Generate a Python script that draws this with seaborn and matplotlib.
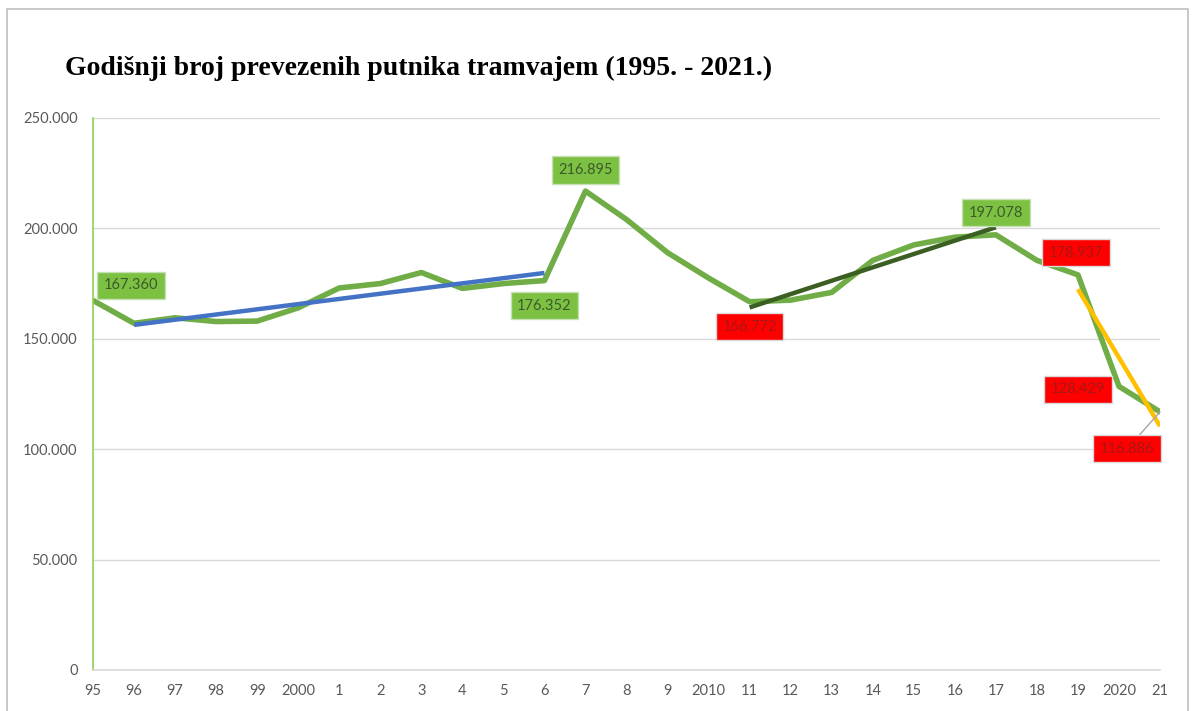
import matplotlib
matplotlib.use("Agg")
import matplotlib.pyplot as plt
from matplotlib.patches import Rectangle
from matplotlib.ticker import FuncFormatter
import seaborn as sns
import numpy as np
import pandas as pd

# ========================
# DATA
# ========================
years = list(range(1995, 2022))
tick_labels = ["95", "96", "97", "98", "99", "2000", "1", "2", "3", "4", "5", "6", "7",
               "8", "9", "2010", "11", "12", "13", "14", "15", "16", "17", "18", "19",
               "2020", "21"]
passengers = [167360, 157000, 159500, 157800, 158000, 164000, 173000, 175000, 180000,
              172800, 175000, 176352, 216895, 204000, 189000, 177500, 166772, 167500,
              171000, 185500, 192500, 196000, 197078, 185500, 178937, 128429, 116886]

# trend segments (start year, end year) -> Excel linear trendlines
trend_blue = (1996, 2006)
trend_dark = (2011, 2017)
trend_yellow = (2019, 2021)

# highlighted values: year, label style
green_labels = [1995, 2006, 2007, 2017]
red_labels = [2011, 2019, 2020, 2021]

df = pd.DataFrame({"idx": np.arange(len(years)), "year": years, "putnici": passengers})

# ========================
# STYLE
# ========================
sns.set_theme(style="white")
plt.rcParams["font.family"] = ["Lato", "DejaVu Sans"]

GREEN = "#70ad47"
BLUE = "#4472c4"
DARK = "#3b5f22"
YELLOW = "#ffc000"
GRID = "#d9d9d9"
TICK = "#595959"

fig = plt.figure(figsize=(12, 7.11), dpi=100)
ax = fig.add_axes([0.0775, 0.0577, 0.8892, 0.7764])

# outer chart border
fig.patches.append(Rectangle((0.006, -0.05), 0.984, 1.038, transform=fig.transFigure,
                             fill=False, edgecolor="#bfbfbf", linewidth=1.2))

sns.lineplot(data=df, x="idx", y="putnici", color=GREEN, linewidth=4.0, ax=ax)


def trend(seg, color):
    sub = df[(df["year"] >= seg[0]) & (df["year"] <= seg[1])]
    k, b = np.polyfit(sub["idx"], sub["putnici"], 1)
    sns.lineplot(x=sub["idx"], y=k * sub["idx"] + b, color=color, linewidth=3.2,
                 ax=ax, solid_capstyle="butt")


trend(trend_blue, BLUE)
trend(trend_dark, DARK)
trend(trend_yellow, YELLOW)

ax.set_xlim(0, len(years) - 1)
ax.set_ylim(0, 250000)
ax.set_yticks(np.arange(0, 250001, 50000))
ax.yaxis.set_major_formatter(FuncFormatter(lambda v, p: f"{int(v):,}".replace(",", ".")))
ax.set_xticks(df["idx"])
ax.set_xticklabels(tick_labels)
ax.tick_params(axis="both", colors=TICK, labelsize=10.5, length=0)
ax.tick_params(axis="y", pad=11)
ax.tick_params(axis="x", pad=10)
ax.set_xlabel("")
ax.set_ylabel("")
ax.yaxis.grid(True, color=GRID, linewidth=1)
ax.set_axisbelow(True)
for s in ["top", "right"]:
    ax.spines[s].set_visible(False)
ax.spines["left"].set_color("#92d050")
ax.spines["left"].set_linewidth(1.2)
ax.spines["bottom"].set_color(GRID)
ax.spines["bottom"].set_linewidth(1.2)

# data labels
offsets = {1995: (38, 15), 2006: (0, -25), 2007: (0, 21), 2017: (0, 22),
           2011: (0, -25), 2019: (-2, 22), 2020: (-41, -3), 2021: (-33, -37)}


def label(year, fc, tc, ec):
    i = years.index(year)
    v = passengers[i]
    txt = f"{v:,}".replace(",", ".")
    arrow = None
    if year == 2021:
        arrow = dict(arrowstyle="-", color="#a6a6a6", lw=1, shrinkA=0, shrinkB=0)
    ax.annotate(txt, (i, v), xytext=offsets[year], textcoords="offset pixels",
                ha="center", va="center", fontsize=10.5, color=tc,
                bbox=dict(boxstyle="square,pad=0.45", fc=fc, ec=ec, lw=1),
                arrowprops=arrow, annotation_clip=False, zorder=5)


for y in green_labels:
    label(y, "#7cc142", "#3d5a2c", "#c5e0b4")
for y in red_labels:
    label(y, "#ff0000", "#a81616", "#d9d9d9")

fig.text(0.054, 0.904, "Godišnji broj prevezenih putnika tramvajem (1995. - 2021.)",
         fontsize=20, fontweight="bold", family=["Liberation Serif", "DejaVu Serif"],
         color="black", va="center", ha="left")

fig.savefig("out.png", dpi=100, facecolor="white")
